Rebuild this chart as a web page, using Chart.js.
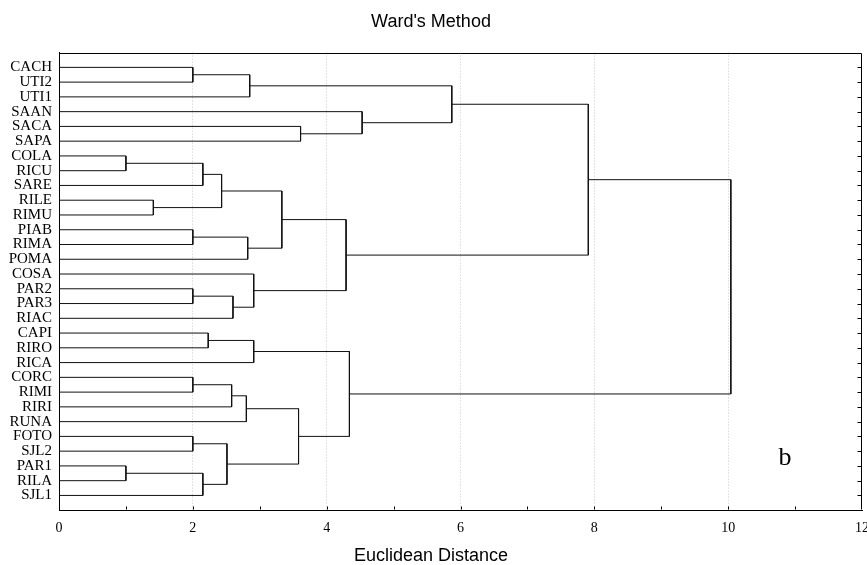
<!DOCTYPE html>
<html><head><meta charset="utf-8">
<script src="https://cdn.jsdelivr.net/npm/chart.js@4.4.1/dist/chart.umd.min.js"></script>
<style>html,body{margin:0;padding:0;background:#fff}#wrap{width:867px;height:565px;position:relative}</style>
</head><body><div id="wrap"><canvas id="c"></canvas></div>
<script>
// Leaves, top to bottom
const leaves = ['CACH','UTI2','UTI1','SAAN','SACA','SAPA','COLA','RICU','SARE','RILE','RIMU','PIAB','RIMA','POMA','COSA','PAR2','PAR3','RIAC','CAPI','RIRO','RICA','CORC','RIMI','RIRI','RUNA','FOTO','SJL2','PAR1','RILA','SJL1'];
// Merges: children are leaf names or earlier merges "m<index>"
const mergeLeft   = ['CACH','m0','SACA','SAAN','m1','COLA','m5','RILE','m6','PIAB','m9','m8','PAR2','m12','COSA','m11','m4','CAPI','m17','CORC','m19','m20','FOTO','PAR1','m23','m22','m21','m18','m16'];
const mergeRight  = ['UTI2','UTI1','SAPA','m2','m3','RICU','SARE','RIMU','m7','RIMA','POMA','m10','PAR3','RIAC','m13','m14','m15','RIRO','RICA','RIMI','RIRI','RUNA','SJL2','RILA','SJL1','m24','m25','m26','m27'];
const mergeHeight = [2.00,2.85,3.61,4.53,5.87,1.00,2.15,1.41,2.43,2.00,2.82,3.33,2.00,2.60,2.91,4.29,7.91,2.23,2.91,2.00,2.58,2.80,2.00,1.00,2.15,2.51,3.58,4.34,10.04];
const xTickValues = [0,2,4,6,8,10,12];
const chartTitle = "Ward's Method";
const xTitle = 'Euclidean Distance';
const panelLabel = 'b';

// Build node positions
const nodePos = {};
leaves.forEach((n, i) => { nodePos[n] = {y: i, h: 0}; });
const datasets = [];
mergeHeight.forEach((h, i) => {
  const L = nodePos[mergeLeft[i]], R = nodePos[mergeRight[i]];
  nodePos['m' + i] = {y: (L.y + R.y) / 2, h: h};
  datasets.push({
    data: [{x: L.h, y: L.y}, {x: h, y: L.y}, {x: h, y: R.y}, {x: R.h, y: R.y}],
    showLine: true, borderColor: '#111', borderWidth: 1, pointRadius: 0, tension: 0, fill: false
  });
});

const framePlugin = {
  id: 'frame',
  afterDraw(chart) {
    const {ctx, chartArea: a, scales} = chart;
    ctx.save();
    ctx.strokeStyle = '#000'; ctx.lineWidth = 1;
    ctx.beginPath();
    const L = Math.round(a.left) + 0.5, R = Math.round(a.right) - 0.5, T = Math.round(a.top) + 0.5, B = Math.round(a.bottom) - 0.5;
    ctx.moveTo(L, T); ctx.lineTo(R, T); ctx.lineTo(R, B);
    // bottom inward ticks
    for (let v = 1; v < 12; v++) {
      const x = Math.round(scales.x.getPixelForValue(v)) + 0.5;
      ctx.moveTo(x, B); ctx.lineTo(x, B - 3);
    }
    // right inward ticks
    leaves.forEach((_, i) => {
      const y = Math.round(scales.y.getPixelForValue(i)) + 0.5;
      ctx.moveTo(R, y); ctx.lineTo(R - 4, y);
    });
    ctx.stroke();
    ctx.fillStyle = '#000';
    ctx.font = '26px "Liberation Serif", "Times New Roman", serif';
    ctx.textAlign = 'center'; ctx.textBaseline = 'alphabetic';
    ctx.fillText(panelLabel, scales.x.getPixelForValue(10.85), scales.y.getPixelForValue(26.97));
    ctx.restore();
  }
};

new Chart(document.getElementById('c'), {
  type: 'scatter',
  data: {datasets},
  options: {
    responsive: true, maintainAspectRatio: false, animation: false,
    layout: {padding: {left: 0, right: 5, top: 0, bottom: 0}},
    plugins: {
      legend: {display: false}, tooltip: {enabled: false},
      title: {display: true, text: chartTitle, color: '#000',
        font: {family: '"Liberation Sans", Arial, sans-serif', size: 18, weight: 'normal', lineHeight: 1.2},
        padding: {top: 11, bottom: 20}},
      subtitle: {display: true, text: xTitle, position: 'bottom', color: '#000',
        font: {family: '"Liberation Sans", Arial, sans-serif', size: 18, weight: 'normal', lineHeight: 1},
        padding: {top: 0, bottom: 0}}
    },
    scales: {
      x: {
        type: 'linear', position: 'bottom', min: 0, max: 12,
        afterBuildTicks: s => { s.ticks = []; for (let v = 0; v <= 12; v++) s.ticks.push({value: v}); },
        afterFit: s => { s.paddingLeft = 0; s.paddingRight = 0; },
        ticks: {autoSkip: false, maxRotation: 0, padding: 10, color: '#000',
          font: {family: '"Liberation Serif", "Times New Roman", serif', size: 14},
          callback: v => xTickValues.includes(v) ? String(v) : ''},
        grid: {drawTicks: false, lineWidth: 1,
          color: c => (c.tick && xTickValues.includes(c.tick.value) && c.tick.value > 0 && c.tick.value < 12) ? '#c8c8c8' : 'rgba(0,0,0,0)'},
        border: {display: true, color: '#000', width: 1, dash: [1, 2]}
      },
      y: {
        type: 'linear', reverse: true, min: -1, max: 30,
        afterBuildTicks: s => { s.ticks = leaves.map((_, i) => ({value: i})); },
        afterFit: s => { s.width = 59; s.paddingTop = 0; s.paddingBottom = 0; },
        ticks: {autoSkip: false, padding: 7, color: '#000',
          font: {family: '"Liberation Serif", "Times New Roman", serif', size: 15},
          callback: v => leaves[v] !== undefined ? leaves[v] : ''},
        grid: {display: false, drawTicks: false},
        border: {display: true, color: '#000', width: 1}
      }
    }
  },
  plugins: [framePlugin]
});
</script>
</body></html>
